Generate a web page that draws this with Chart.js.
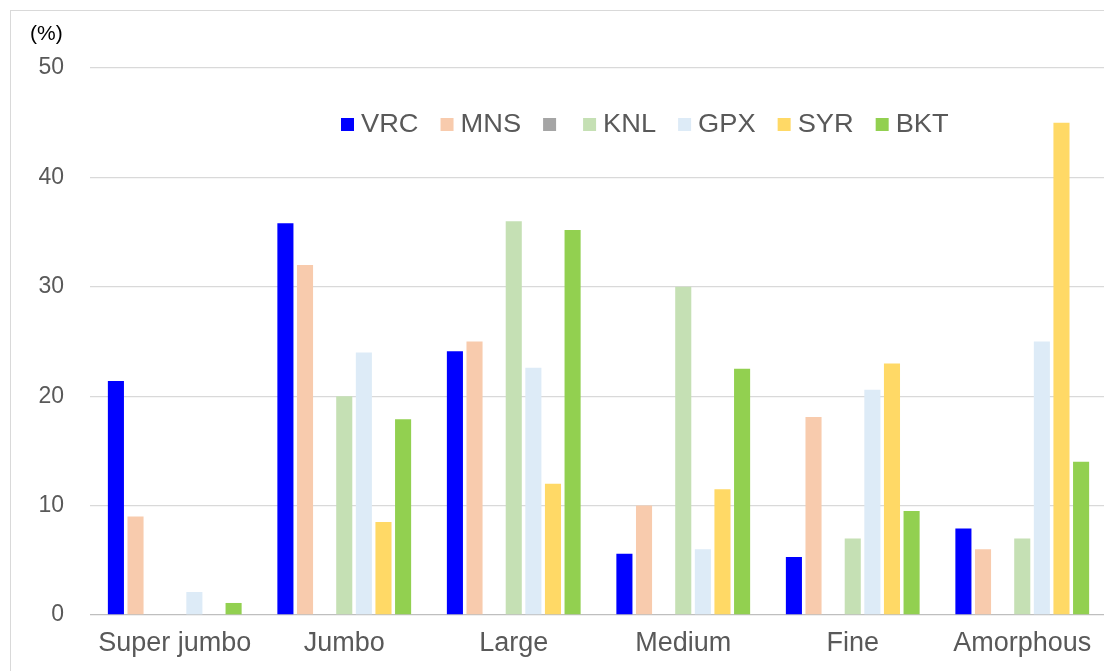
<!DOCTYPE html>
<html>
<head>
<meta charset="utf-8">
<script src="https://cdn.jsdelivr.net/npm/chart.js@4.4.1/dist/chart.umd.min.js"></script>
<style>
  html, body { margin: 0; padding: 0; background: #fff; overflow: hidden; }
  #wrap { position: absolute; left: 0; top: 0; width: 1110px; height: 671px; }
</style>
</head>
<body>
<div id="wrap"><canvas id="c" width="1110" height="671"></canvas></div>
<script>
const categories = ["Super jumbo", "Jumbo", "Large", "Medium", "Fine", "Amorphous"];
const seriesNames = ["VRC", "MNS", "", "KNL", "GPX", "SYR", "BKT"];
const VRC = [21.4, 35.8, 24.1, 5.6, 5.3, 7.9];
const MNS = [9, 32, 25, 10, 18.1, 6];
const GRAY = [null, null, null, null, null, null];
const KNL = [null, 20, 36, 30, 7, 7];
const GPX = [2.1, 24, 22.6, 6, 20.6, 25];
const SYR = [null, 8.5, 12, 11.5, 23, 45];
const BKT = [1.1, 17.9, 35.2, 22.5, 9.5, 14];
const yTicks = [0, 10, 20, 30, 40, 50];
const colors = ["#0000FF", "#F8CBAD", "#A5A5A5", "#C5E0B4", "#DDEBF7", "#FFD966", "#92D050"];
const seriesData = [VRC, MNS, GRAY, KNL, GPX, SYR, BKT];

const FONT = "'Liberation Sans', Arial, sans-serif";

const framePlugin = {
  id: 'frame',
  beforeDraw(chart) {
    const ctx = chart.ctx;
    ctx.save();
    ctx.strokeStyle = '#d9d9d9';
    ctx.lineWidth = 1;
    ctx.strokeRect(10.5, 10.5, 3000, 3000);
    ctx.restore();
  },
  afterDraw(chart) {
    const ctx = chart.ctx;
    ctx.save();
    // unit label
    ctx.fillStyle = '#000';
    ctx.font = "21px " + FONT;
    ctx.textBaseline = 'middle';
    ctx.textAlign = 'left';
    ctx.fillText('(%)', 30, 34);
    // legend inside plot
    ctx.font = "25px " + FONT;
    const sx = 1.09;
    let x = 341;
    const yc = 124.5;
    const box = 13;
    chart.data.datasets.forEach((ds) => {
      ctx.fillStyle = ds.backgroundColor;
      ctx.fillRect(x, yc - box / 2, box, box);
      x += box;
      if (ds.label) {
        ctx.fillStyle = '#595959';
        ctx.save();
        ctx.translate(x + 7, yc + 1);
        ctx.scale(sx, 1);
        ctx.fillText(ds.label, 0, 0);
        ctx.restore();
        x += 7 + ctx.measureText(ds.label).width * sx + 22;
      } else {
        x += 27;
      }
    });
    ctx.restore();
  }
};

new Chart(document.getElementById('c'), {
  type: 'bar',
  data: {
    labels: categories,
    datasets: seriesNames.map((n, i) => ({
      label: n,
      data: seriesData[i],
      backgroundColor: colors[i],
      borderWidth: 0,
      categoryPercentage: 0.81,
      barPercentage: 0.82
    }))
  },
  options: {
    responsive: false,
    animation: false,
    devicePixelRatio: 1,
    layout: { padding: { left: 0, right: 3, top: 68, bottom: 0 } },
    plugins: {
      legend: { display: false },
      tooltip: { enabled: false },
      title: { display: false }
    },
    scales: {
      x: {
        grid: { display: false, drawTicks: false },
        border: { display: false },
        ticks: {
          color: '#595959',
          font: { family: FONT, size: 27 },
          padding: 12,
          maxRotation: 0,
          autoSkip: false
        },
        afterFit(scale) { scale.height = 56; }
      },
      y: {
        min: 0,
        max: 50,
        afterBuildTicks(scale) { scale.ticks = yTicks.map(v => ({ value: v })); },
        grid: {
          drawTicks: false,
          color: (c) => c.tick && c.tick.value === 0 ? '#bfbfbf' : '#d9d9d9',
          lineWidth: 1.3
        },
        border: { display: false },
        ticks: {
          color: '#595959',
          font: { family: FONT, size: 23 },
          padding: 26
        },
        afterFit(scale) { scale.width = 90; }
      }
    }
  },
  plugins: [framePlugin]
});
</script>
</body>
</html>
